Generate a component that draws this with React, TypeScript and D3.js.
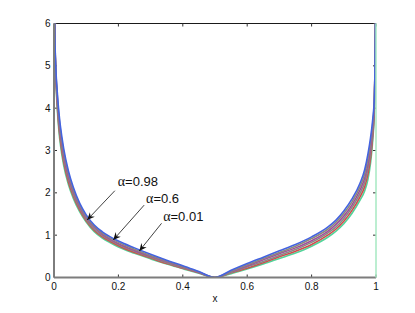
import React from 'react';
import * as d3 from 'd3';

// sample positions along x (shared by every curve)
const xs = [0.001, 0.002, 0.004, 0.007, 0.01, 0.015, 0.02, 0.03, 0.045, 0.06, 0.08, 0.1, 0.125, 0.15, 0.175, 0.2, 0.25, 0.3, 0.35, 0.4, 0.45, 0.5,
  0.55, 0.6, 0.65, 0.7, 0.75, 0.8, 0.85, 0.875, 0.9, 0.925, 0.95, 0.965, 0.975, 0.983, 0.99, 0.995, 0.997, 0.999];

// curves, top of the band to bottom
const curveA = [7.2, 6.0, 5.3, 4.75, 4.4, 3.92, 3.57, 3.05, 2.51, 2.13, 1.75, 1.48, 1.24, 1.08, 0.96, 0.86, 0.70, 0.55, 0.41, 0.28, 0.14, 0,
  0.17, 0.33, 0.48, 0.63, 0.78, 0.96, 1.19, 1.35, 1.57, 1.85, 2.22, 2.55, 2.92, 3.30, 3.75, 4.25, 5.05, 6.4];
const curveB = [7.2, 6.0, 5.26, 4.69, 4.32, 3.83, 3.48, 2.97, 2.45, 2.08, 1.71, 1.44, 1.21, 1.05, 0.93, 0.83, 0.67, 0.52, 0.39, 0.26, 0.13, 0,
  0.15, 0.30, 0.45, 0.59, 0.74, 0.92, 1.14, 1.30, 1.51, 1.78, 2.14, 2.45, 2.80, 3.18, 3.65, 4.19, 5.03, 6.4];
const curveC = [7.2, 6.0, 5.22, 4.63, 4.24, 3.74, 3.39, 2.89, 2.38, 2.03, 1.67, 1.41, 1.18, 1.02, 0.90, 0.80, 0.64, 0.50, 0.37, 0.25, 0.12, 0,
  0.14, 0.27, 0.42, 0.56, 0.70, 0.87, 1.09, 1.25, 1.45, 1.71, 2.06, 2.35, 2.68, 3.06, 3.55, 4.13, 5.01, 6.4];
const curveD = [7.2, 6.0, 5.18, 4.57, 4.16, 3.66, 3.31, 2.81, 2.32, 1.97, 1.63, 1.37, 1.14, 0.99, 0.88, 0.78, 0.62, 0.48, 0.35, 0.23, 0.12, 0,
  0.12, 0.25, 0.38, 0.52, 0.66, 0.83, 1.05, 1.19, 1.39, 1.65, 1.98, 2.25, 2.56, 2.94, 3.45, 4.07, 4.99, 6.4];
const curveE = [7.2, 6.0, 5.14, 4.51, 4.08, 3.57, 3.22, 2.73, 2.25, 1.92, 1.59, 1.34, 1.11, 0.96, 0.85, 0.75, 0.59, 0.46, 0.33, 0.22, 0.11, 0,
  0.11, 0.22, 0.35, 0.49, 0.62, 0.78, 1.00, 1.14, 1.33, 1.58, 1.90, 2.15, 2.44, 2.82, 3.35, 4.01, 4.97, 6.4];
const curveF = [7.2, 6.0, 5.1, 4.45, 4.0, 3.48, 3.13, 2.65, 2.19, 1.87, 1.55, 1.31, 1.08, 0.93, 0.82, 0.72, 0.57, 0.44, 0.32, 0.21, 0.10, 0,
  0.09, 0.20, 0.32, 0.45, 0.58, 0.74, 0.95, 1.09, 1.27, 1.51, 1.82, 2.05, 2.32, 2.70, 3.25, 3.95, 4.95, 6.4];

const curves = [curveF, curveE, curveD, curveC, curveB, curveA];
const curveColors = ['#52d49a', '#d04c4c', '#8a8a82', '#a04f9a', '#8c8a7c', '#4463e0'];

const xTicks = [0, 0.2, 0.4, 0.6, 0.8, 1];
const yTicks = [0, 1, 2, 3, 4, 5, 6];

const alphaLabels = ['0.98', '0.6', '0.01'];
const arrowTips = [[0.103, 1.36], [0.184, 0.886], [0.265, 0.626]];
const arrowTails = [[0.189, 2.05], [0.28, 1.71], [0.334, 1.28]];
const labelPos = [[0.198, 2.16], [0.286, 1.76], [0.339, 1.335]];

const W = 415, H = 313;
const left = 54, right = 376, top = 23.5, bottom = 277.5;

export default function App() {
  const x = d3.scaleLinear().domain([0, 1]).range([left, right]);
  const y = d3.scaleLinear().domain([0, 6]).range([bottom, top]);

  const line = d3.line<number>()
    .x((d, i) => x(xs[i]))
    .y(d => y(d))
    .curve(d3.curveMonotoneX);

  const font = 'Liberation Sans, Arial, Helvetica, sans-serif';
  const tick = 3;

  // arrow head (notched, like matlab's annotation arrow)
  const arrowHead = (tx, ty, fx, fy) => {
    const ang = Math.atan2(ty - fy, tx - fx);
    const len = 7.5, wid = 3.4, notch = 5;
    const c = Math.cos(ang), s = Math.sin(ang);
    const pt = (a, b) => [tx - a * c + b * s, ty - a * s - b * c];
    const p1 = pt(len, wid), p2 = pt(notch, 0), p3 = pt(len, -wid);
    return `M${tx},${ty}L${p1[0]},${p1[1]}L${p2[0]},${p2[1]}L${p3[0]},${p3[1]}Z`;
  };

  return (
    <svg width={W} height={H} style={{ position: 'absolute', left: 0, top: 0, background: '#fff' }}>
      <defs>
        <clipPath id="plot">
          <rect x={left} y={top} width={right - left} height={bottom - top} />
        </clipPath>
      </defs>

      {/* top frame and inward ticks */}
      <line x1={left} x2={right} y1={top} y2={top} stroke="#1a1a1a" strokeWidth={1} />
      {xTicks.map(t => (
        <line key={'tt' + t} x1={x(t)} x2={x(t)} y1={top} y2={top + tick} stroke="#333" strokeWidth={1} />
      ))}
      {xTicks.map(t => (
        <line key={'bt' + t} x1={x(t)} x2={x(t)} y1={bottom} y2={bottom - tick} stroke="#333" strokeWidth={1} />
      ))}
      {yTicks.map(t => (
        <line key={'lt' + t} x1={left} x2={left + tick} y1={y(t)} y2={y(t)} stroke="#333" strokeWidth={1} />
      ))}
      {yTicks.map(t => (
        <line key={'rt' + t} x1={right} x2={right - tick} y1={y(t)} y2={y(t)} stroke="#333" strokeWidth={1} />
      ))}

      <g clipPath="url(#plot)">
        {curves.map((c, i) => (
          <path key={i} d={line(c) || ''} fill="none" stroke={curveColors[i]} strokeWidth={1.6} />
        ))}
      </g>

      {/* left / bottom axis lines drawn gray, right edge light green */}
      <line x1={left} x2={left} y1={top} y2={bottom} stroke="#7d7d7d" strokeWidth={2} />
      <line x1={left} x2={right} y1={bottom} y2={bottom} stroke="#7d7d7d" strokeWidth={2} />
      <line x1={right} x2={right} y1={top} y2={bottom} stroke="#a6e8c2" strokeWidth={1.5} />

      {xTicks.map(t => (
        <text key={'xl' + t} x={x(t)} y={bottom + 12.5} textAnchor="middle" fontFamily={font} fontSize={10} fill="#111">
          {t}
        </text>
      ))}
      {yTicks.map(t => (
        <text key={'yl' + t} x={left - 3.5} y={y(t) + 3.5} textAnchor="end" fontFamily={font} fontSize={10} fill="#111">
          {t}
        </text>
      ))}
      <text x={(left + right) / 2} y={301.5} textAnchor="middle" fontFamily={font} fontSize={10} fill="#111">x</text>

      {alphaLabels.map((lab, i) => {
        const tx = x(arrowTips[i][0]), ty = y(arrowTips[i][1]);
        const fx = x(arrowTails[i][0]), fy = y(arrowTails[i][1]);
        return (
          <g key={lab}>
            <line x1={fx} y1={fy} x2={tx} y2={ty} stroke="#111" strokeWidth={0.8} />
            <path d={arrowHead(tx, ty, fx, fy)} fill="#111" />
            <text x={x(labelPos[i][0])} y={y(labelPos[i][1])} fontFamily={font} fontSize={13} fill="#111">
              <tspan fontFamily="Liberation Serif, DejaVu Serif, serif" fontSize={14}>α</tspan>=
              {lab}
            </text>
          </g>
        );
      })}
    </svg>
  );
}
